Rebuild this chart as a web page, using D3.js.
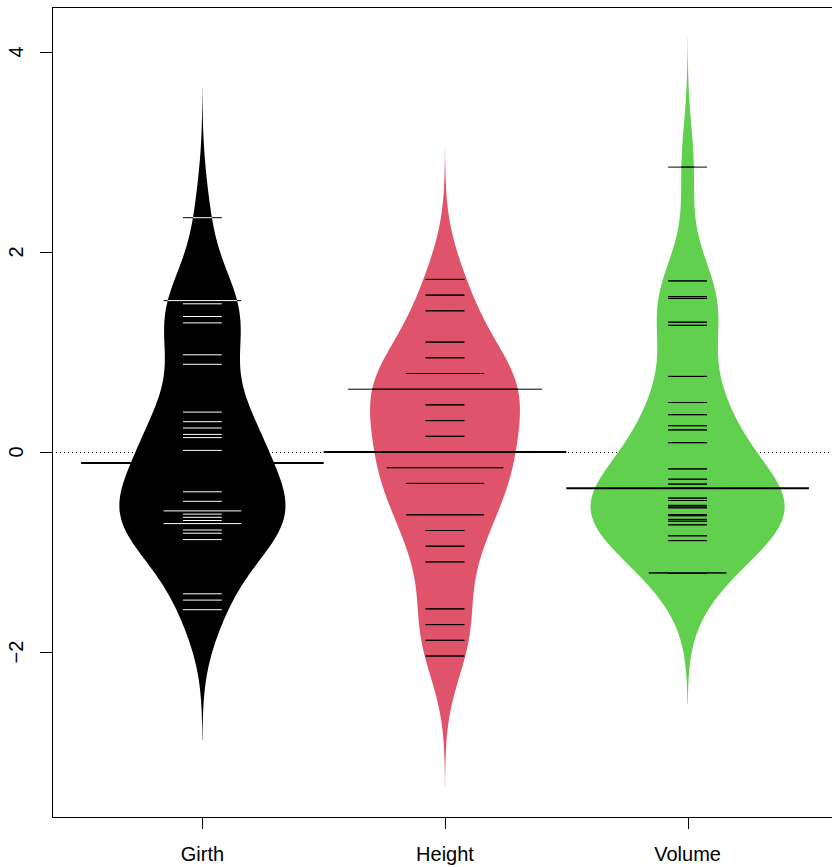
<!DOCTYPE html>
<html>
<head>
<meta charset="utf-8">
<script src="https://cdn.jsdelivr.net/npm/d3@7"></script>
<style>
  body { margin: 0; background: #fff; }
  svg text { font-family: "Liberation Sans", Arial, Helvetica, sans-serif; }
</style>
</head>
<body>
<svg id="chart" width="832" height="867"></svg>
<script>
// standardized values (trees data)
const categories = ["Girth", "Height", "Volume"]
const girth = [-1.577, -1.481, -1.418, -0.876, -0.812, -0.780, -0.716, -0.716, -0.685, -0.653,
  -0.621, -0.589, -0.589, -0.493, -0.398, -0.111, -0.111, 0.016, 0.144, 0.176,
  0.240, 0.303, 0.399, 0.877, 0.972, 1.291, 1.355, 1.482, 1.514, 1.514, 2.343]
const height = [-0.942, -1.726, -2.040, -0.628, 0.785, 1.099, -1.569, -0.157, 0.628, -0.157,
  0.471, 0, 0, -1.099, -0.157, -0.314, 1.412, 1.569, -0.785, -1.883,
  0.314, 0.628, -0.314, -0.628, 0.157, 0.785, 0.942, 0.628, 0.628, 0.628, 1.726]
const volume = [-1.209, -1.209, -1.215, -0.838, -0.692, -0.637, -0.886, -0.728, -0.461, -0.625,
  -0.363, -0.558, -0.534, -0.540, -0.674, -0.485, 0.221, -0.169, -0.272, -0.321,
  0.263, 0.093, 0.373, 0.495, 0.756, 1.535, 1.553, 1.711, 1.298, 1.267, 2.849]
const beanFill = ["#000000", "#DF536B", "#61D04F"]
const lineInside = ["#ffffff", "#000000", "#000000"]
const yTicks = [-2, 0, 2, 4]
const bandwidth = 0.435

const series = [girth, height, volume]
const margin = {left: 52, right: -6, top: 7, bottom: 50}
const W = 832, H = 867

const svg = d3.select('#chart')

const x = d3.scaleLinear().domain([0.38, 3.62]).range([margin.left, W - margin.right])
const y = d3.scaleLinear().domain([-3.65, 4.45]).range([H - margin.bottom, margin.top])

// gaussian kernel density, cut at 3 bandwidths like R's density()
function kde(values, bw) {
    const lo = d3.min(values) - 3 * bw
    const hi = d3.max(values) + 3 * bw
    const n = 512
    const pts = []
    for (let i = 0; i < n; i++) {
        const t = lo + (hi - lo) * i / (n - 1)
        let s = 0
        values.forEach(function (v) {
            const z = (t - v) / bw
            s += Math.exp(-0.5 * z * z)
        })
        pts.push({t: t, dens: s / (values.length * bw * Math.sqrt(2 * Math.PI))})
    }
    return pts
}

const densities = series.map(function (v) { return kde(v, bandwidth) })
const maxDens = d3.max(densities, function (d) { return d3.max(d, function (p) { return p.dens }) })
const halfWidth = d3.scaleLinear().domain([0, maxDens]).range([0, x(1.4) - x(1)])

// overall line (dotted)
const overall = d3.mean(series.flat())
svg.append('line')
    .attr('x1', margin.left).attr('x2', W)
    .attr('y1', Math.round(y(overall)) + 0.5).attr('y2', Math.round(y(overall)) + 0.5)
    .attr('stroke', '#000').attr('stroke-width', 1)
    .attr('stroke-dasharray', '1,3')

const defs = svg.append('defs')

series.forEach(function (values, i) {
    const cx = i + 1
    const area = d3.area()
        .y(function (d) { return y(d.t) })
        .x0(function (d) { return x(cx) - halfWidth(d.dens) })
        .x1(function (d) { return x(cx) + halfWidth(d.dens) })
    const pathD = area(densities[i])

    svg.append('path')
        .attr('d', pathD)
        .attr('fill', beanFill[i])

    defs.append('clipPath').attr('id', 'bean' + i)
        .append('path').attr('d', pathD)

    const counts = d3.rollups(values, function (v) { return v.length }, function (d) { return d })
    // beanlines, outside colour first
    svg.append('g').selectAll('line')
        .data(counts)
        .join('line')
        .attr('x1', function (d) { return x(cx - 0.08 * d[1]) })
        .attr('x2', function (d) { return x(cx + 0.08 * d[1]) })
        .attr('y1', function (d) { return y(d[0]) })
        .attr('y2', function (d) { return y(d[0]) })
        .attr('stroke', '#000').attr('stroke-width', 1)
    // inside colour, clipped to the bean
    svg.append('g').attr('clip-path', 'url(#bean' + i + ')')
        .selectAll('line')
        .data(counts)
        .join('line')
        .attr('x1', function (d) { return x(cx - 0.08 * d[1]) })
        .attr('x2', function (d) { return x(cx + 0.08 * d[1]) })
        .attr('y1', function (d) { return y(d[0]) })
        .attr('y2', function (d) { return y(d[0]) })
        .attr('stroke', lineInside[i]).attr('stroke-width', 1)

    // median line
    const med = d3.median(values)
    svg.append('line')
        .attr('x1', x(cx - 0.5)).attr('x2', x(cx + 0.5))
        .attr('y1', y(med)).attr('y2', y(med))
        .attr('stroke', '#000').attr('stroke-width', 2)
})

// box
svg.append('rect')
    .attr('x', margin.left + 0.5).attr('y', margin.top + 0.5)
    .attr('width', x.range()[1] - margin.left)
    .attr('height', y.range()[0] - margin.top)
    .attr('fill', 'none').attr('stroke', '#000').attr('stroke-width', 1)

// y axis
const yAxis = svg.append('g')
yAxis.selectAll('line')
    .data(yTicks)
    .join('line')
    .attr('x1', margin.left - 12).attr('x2', margin.left)
    .attr('y1', function (d) { return Math.round(y(d)) + 0.5 })
    .attr('y2', function (d) { return Math.round(y(d)) + 0.5 })
    .attr('stroke', '#000')
yAxis.selectAll('text')
    .data(yTicks)
    .join('text')
    .attr('transform', function (d) { return 'translate(23,' + y(d) + ') rotate(-90)' })
    .attr('text-anchor', 'middle')
    .attr('font-size', 20)
    .text(function (d) { return d < 0 ? '\u2212' + Math.abs(d) : d })

// x axis
const xAxis = svg.append('g')
xAxis.selectAll('line')
    .data(categories)
    .join('line')
    .attr('x1', function (d, i) { return Math.round(x(i + 1)) + 0.5 })
    .attr('x2', function (d, i) { return Math.round(x(i + 1)) + 0.5 })
    .attr('y1', y.range()[0]).attr('y2', y.range()[0] + 12)
    .attr('stroke', '#000')
xAxis.selectAll('text')
    .data(categories)
    .join('text')
    .attr('x', function (d, i) { return x(i + 1) })
    .attr('y', 861)
    .attr('text-anchor', 'middle')
    .attr('font-size', 20)
    .text(function (d) { return d })
</script>
</body>
</html>
